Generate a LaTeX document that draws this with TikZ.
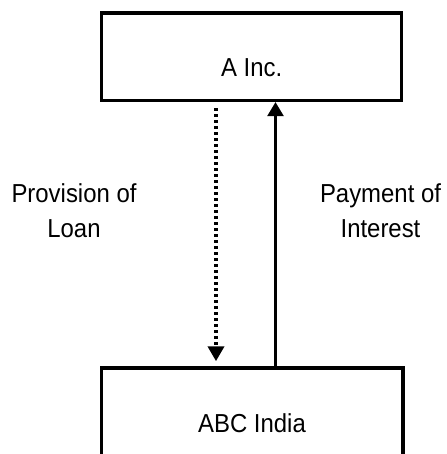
\documentclass[tikz,border=0pt]{standalone}
\usepackage{fontspec}
\setmainfont{Liberation Sans}[FakeStretch=0.92]
\usetikzlibrary{arrows.meta}
\begin{document}
\begin{tikzpicture}[x=1pt,y=-1pt,
  box/.style={draw,line width=3.5pt,rectangle,inner sep=0pt},
  lbl/.style={font=\fontsize{26}{35}\selectfont,align=center,inner sep=0pt},
  arr/.style={line width=2.4pt,-{Triangle[length=14pt,width=16pt]}},
  dotarr/.style={line width=4.5pt,dash pattern=on 3pt off 3pt,-{Triangle[length=15pt,width=16pt]}}]
\useasboundingbox (0,0) rectangle (446,454);
\clip (0,0) rectangle (446,454);
\node[box,minimum width=300pt,minimum height=87.5pt] (top) at (251.5,56.6) {};
\node[box,minimum width=301.5pt,minimum height=120pt] (bot) at (252.3,428) {};
\node[lbl,anchor=base] (tl) at (251.7,77) {A Inc.};
\node[lbl,anchor=base] (bl) at (252,432) {ABC India};
\node[lbl,anchor=base] (pl) at (74,237) {Provision of\\Loan};
\node[lbl,anchor=base] (pi) at (380.5,237) {Payment of\\Interest};
\coordinate (dx) at (216,0);
\coordinate (sx) at (275.5,0);
\draw[dotarr,shorten <=6pt,shorten >=5pt] (top.south -| dx) -- (bot.north -| dx);
\draw[arr] (bot.north -| sx) -- (top.south -| sx);
\end{tikzpicture}
\end{document}
